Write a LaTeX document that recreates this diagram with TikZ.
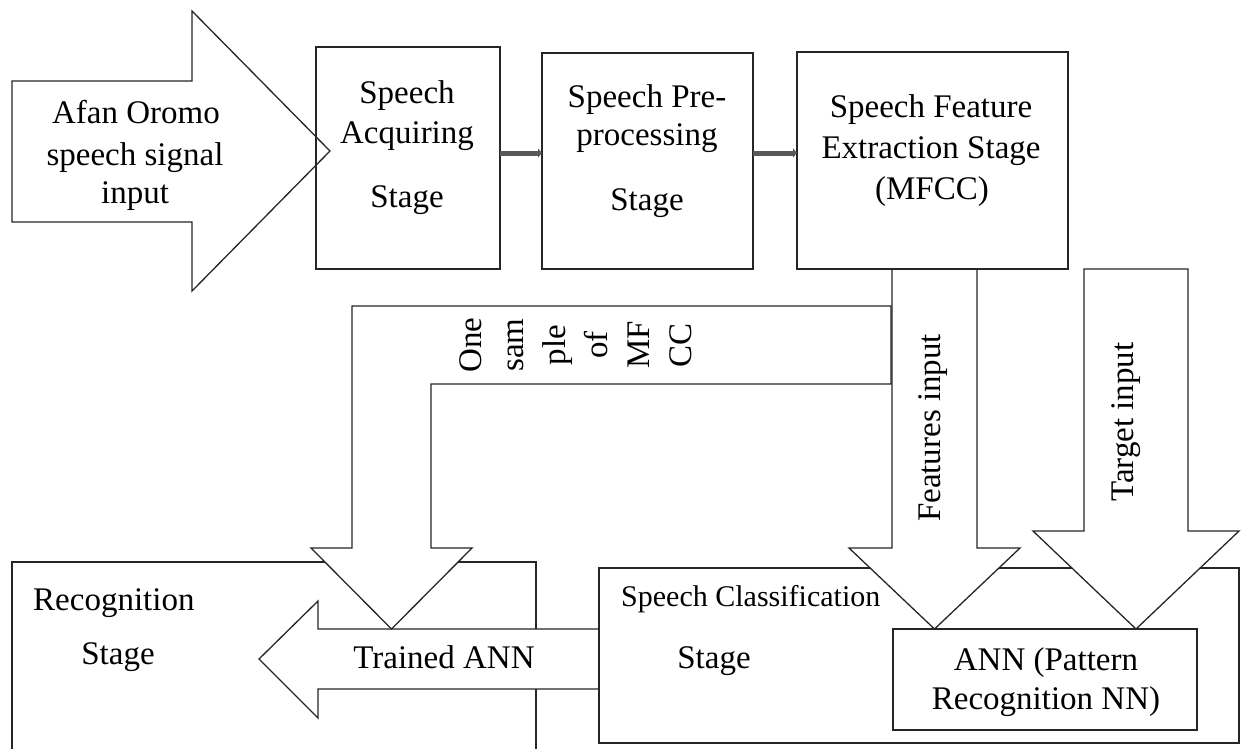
\documentclass[tikz,border=0pt]{standalone}
\usepackage{fontspec}
\setmainfont{Liberation Serif}
\usetikzlibrary{arrows.meta}
\begin{document}
\begin{tikzpicture}[x=1pt,y=-1pt,
  box/.style={draw=black!85, line width=1.3pt, inner sep=0pt, outer sep=0pt, anchor=north west},
  txt/.style={inner sep=0pt, anchor=base, font=\fontsize{33}{40}\selectfont},
  blk/.style={draw=black!85, line width=1.3pt, fill=white, line join=miter},
  link/.style={line width=5pt, draw=black!65, -{Triangle[length=4pt,width=9pt]}}]
\clip (0,0) rectangle (1241,748);
\fill[white] (0,0) rectangle (1241,748);

% bottom boxes
\node[box, minimum width=524pt, minimum height=220pt] (recog) at (12,562) {};
% trained ANN arrow
\draw[blk] (598,629) -- (318,629) -- (318,601) -- (259,659) -- (318,718) -- (318,689) -- (598,689);
\node[box, minimum width=640pt, minimum height=175pt] (class) at (599,568) {};
\node[box, minimum width=304pt, minimum height=101pt] (ann) at (893,629) {};

% input arrow
\draw[blk] (12,81) -- (192,81) -- (192,11) -- (330,151) -- (192,291) -- (192,222) -- (12,222) -- cycle;
% bent arrow (one sample of MFCC)
\draw[blk] (891,306) -- (352,306) -- (352,548) -- (311,548) -- (391.5,629) -- (472,548) -- (431,548) -- (431,384) -- (891,384) -- cycle;
% features arrow
\draw[blk] (892,269) -- (892,548) -- (849,548) -- (934.5,629) -- (1020,548) -- (977,548) -- (977,269);
% target arrow
\draw[blk] (1084,269) -- (1188,269) -- (1188,531) -- (1239,531) -- (1136,629) -- (1033,531) -- (1084,531) -- cycle;

% top boxes
\node[box, minimum width=184pt, minimum height=222pt] (acq) at (316,47) {};
\node[box, minimum width=211pt, minimum height=216pt] (pre) at (542,53) {};
\node[box, minimum width=271pt, minimum height=217pt] (feat) at (797,52) {};

\coordinate (ly) at (0,153);
\draw[link] (acq.east |- ly) -- (pre.west |- ly);
\draw[link] (pre.east |- ly) -- (feat.west |- ly);

% texts
\node[txt] (in1) at (136,123) {Afan Oromo};
\node[txt] (in2) at (135,165) {speech signal};
\node[txt] (in3) at (135,203) {input};

\node[txt] (acq1) at (407,103) {Speech};
\node[txt] (acq2) at (407,143) {Acquiring};
\node[txt] (acq3) at (407,207) {Stage};

\node[txt] (pre1) at (647,107) {Speech Pre-};
\node[txt] (pre2) at (647,145) {processing};
\node[txt] (pre3) at (647,210) {Stage};

\node[txt] (feat1) at (931,117) {Speech Feature};
\node[txt] (feat2) at (931,158) {Extraction Stage};
\node[txt] (feat3) at (932,199) {(MFCC)};

\node[txt, anchor=base west] (rec1) at (33,610) {Recognition};
\node[txt] (rec2) at (118,664) {Stage};

\node[txt] (tr) at (444,668) {Trained ANN};

\node[txt, anchor=base west, font=\fontsize{30}{40}\selectfont] (cl1) at (621,606) {Speech Classification};
\node[txt] (cl2) at (714,668) {Stage};

\node[txt] (ann1) at (1046,670) {ANN (Pattern};
\node[txt] (ann2) at (1046,709) {Recognition NN)};

\node[txt, rotate=90] (fi) at (940,428) {Features input};
\node[txt, rotate=90] (ti) at (1133,422) {Target input};

\node[inner sep=0pt, rotate=90, align=center, font=\fontsize{33}{42}\selectfont] (mf) at (576,345) {One\\sam\\ple\\of\\MF\\CC};
\end{tikzpicture}
\end{document}
